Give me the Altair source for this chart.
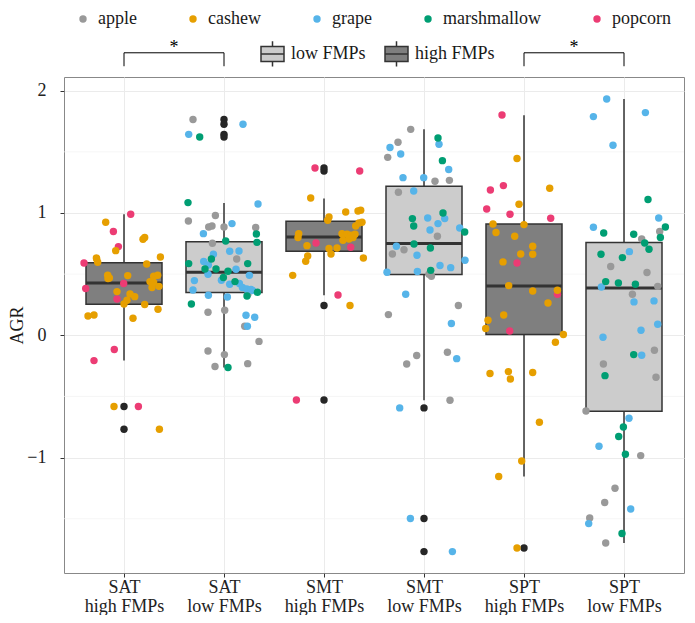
import altair as alt
import pandas as pd

# ---------------- data ----------------
foods = ["apple", "cashew", "grape", "marshmallow", "popcorn"]
food_colors = ["#999999", "#E69F00", "#56B4E9", "#009E73", "#EC3C74"]

cat_top = ["SAT", "SAT", "SMT", "SMT", "SPT", "SPT"]
cat_bottom = ["high FMPs", "low FMPs", "high FMPs", "low FMPs", "high FMPs", "low FMPs"]
fmp_levels = ["low FMPs", "high FMPs"]
fmp_fills = ["#CCCCCC", "#7F7F7F"]

# box statistics per category
whisker_lo = [-0.207, -0.264, 0.327, -0.531, -1.155, -1.698]
q1 = [0.253, 0.349, 0.687, 0.496, 0.006, -0.621]
median = [0.428, 0.515, 0.804, 0.750, 0.403, 0.387]
q3 = [0.594, 0.765, 0.932, 1.218, 0.910, 0.758]
whisker_hi = [0.990, 1.082, 1.118, 1.684, 1.800, 1.932]

# outliers (category number, AGR)
outlier_cat = [1, 1, 2, 2, 2, 2, 3, 3, 3, 3, 4, 4, 4, 5]
outlier_agr = [-0.583, -0.769, 1.764, 1.725, 1.643, 1.621, 1.368, 1.343, 0.243, -0.529,
               -0.594, -1.499, -1.769, -1.739]

# jittered points: per category, per food: AGR values and horizontal jitter
sat_high = {
    "popcorn": ([0.99, 0.848, 0.725, 0.591, 0.423, 0.382, 0.297, -0.117, -0.207, -0.583],
                [0.067, -0.106, -0.056, -0.40, -0.003, -0.383, -0.07, -0.097, -0.30, 0.144]),
    "cashew": ([0.924, 0.80, 0.785, 0.692, 0.632, 0.64, 0.624, 0.597, 0.583, 0.491, 0.469, 0.464,
                0.488, 0.482, 0.491, 0.439, 0.431, 0.40, 0.39, 0.357, 0.338, 0.286, 0.256, 0.316,
                0.251, 0.213, 0.158, 0.166, 0.139, -0.583, -0.769],
               [-0.183, 0.207, 0.19, -0.083, -0.276, 0.364, -0.273, -0.263, 0.227, -0.163, -0.146,
                -0.16, 0.037, 0.297, 0.337, 0.26, 0.297, 0.35, 0.28, -0.07, 0.06, 0.03, 0.0, 0.107,
                0.207, 0.34, -0.36, -0.30, 0.09, -0.10, 0.354]),
}
sat_low = {
    "apple": ([1.764, 0.979, 0.935, 0.886, 0.894, 0.886, 0.881, 0.752, 0.624, 0.338, 0.188, 0.204,
               0.074, -0.05, -0.128, -0.158, -0.256, -0.232],
              [-0.31, -0.086, -0.356, -0.153, -0.12, 0.0, 0.317, -0.116, 0.127, 0.24, -0.16, 0.007,
               0.207, 0.35, -0.16, 0.004, -0.09, 0.237]),
    "grape": ([1.643, 1.725, 1.074, 0.913, 0.831, 0.662, 0.687, 0.689, 0.603, 0.575, 0.54, 0.499,
               0.49, 0.45, 0.447, 0.417, 0.423, 0.39, 0.379, 0.374, 0.366, 0.37, 0.327, 0.313,
               0.164, 0.147, 0.074],
              [-0.353, 0.19, 0.34, 0.08, -0.206, -0.106, 0.057, 0.15, -0.203, -0.156, 0.12, -0.16,
               0.254, -0.026, -0.296, 0.057, 0.154, 0.184, 0.227, 0.27, 0.287, -0.31, -0.156,
               0.034, 0.22, 0.307, 0.234]),
    "marshmallow": ([1.621, 1.085, 0.828, 0.771, 0.76, 0.624, 0.586, 0.586, 0.542, 0.542, 0.523,
                     0.472, 0.439, 0.352, 0.321, 0.256, -0.264],
                    [-0.243, -0.36, 0.324, 0.017, 0.33, -0.126, -0.353, 0.237, -0.19, -0.08, 0.04,
                     -0.006, 0.11, 0.334, 0.23, -0.326, 0.04]),
}
smt_high = {
    "popcorn": ([1.368, 1.343, 0.755, 0.72, 0.33, -0.529],
                [-0.09, 0.357, -0.08, 0.267, 0.14, -0.276]),
    "cashew": ([1.123, 1.008, 1.016, 1.022, 0.967, 0.94, 0.918, 0.924, 0.894, 0.831, 0.799, 0.831,
                0.826, 0.818, 0.826, 0.777, 0.787, 0.799, 0.733, 0.709, 0.665, 0.714, 0.649, 0.605,
                0.632, 0.49, 0.243],
               [-0.133, 0.217, 0.34, 0.367, 0.05, 0.037, 0.35, 0.38, 0.317, -0.253, -0.26, 0.18,
                0.23, 0.27, 0.31, 0.19, 0.25, 0.29, -0.17, 0.05, 0.07, 0.13, -0.163, -0.183, 0.394,
                -0.313, 0.26]),
}
smt_low = {
    "apple": ([1.684, 1.578, 1.455, 1.259, 1.267, 1.169, 0.81, 0.70, 0.665, 0.499, 0.482, 0.243,
               0.169, -0.166, -0.235, -0.139, -0.531],
              [-0.133, -0.26, -0.363, 0.11, 0.254, -0.256, 0.134, -0.2, -0.316, 0.05, 0.074, 0.344,
               -0.356, -0.073, -0.173, 0.234, 0.26]),
    "grape": ([1.535, 1.482, 1.562, 1.355, 1.289, 1.289, 1.18, 0.959, 0.913, 0.954, 0.861, 0.877,
               0.728, 0.654, 0.613, 0.57, 0.553, 0.515, 0.521, 0.335, 0.096, -0.191, -0.594,
               -1.499, -1.769],
              [-0.34, -0.233, 0.15, 0.247, -0.21, -0.003, -0.103, 0.037, 0.14, 0.207, 0.06, 0.357,
               -0.276, -0.07, 0.41, 0.16, 0.267, -0.37, -0.066, -0.183, 0.274, 0.327, -0.243,
               -0.136, 0.284]),
    "marshmallow": ([1.613, 1.428, 0.954, 0.894, 1.0, 0.845, 0.747, 0.714, 0.531],
                    [0.14, 0.184, -0.116, -0.103, 0.19, 0.407, -0.1, 0.064, 0.067]),
}
spt_high = {
    "popcorn": ([1.801, 1.188, 1.224, 1.033, 0.989, 0.957, 0.591, 0.335, 0.035],
                [-0.22, -0.336, -0.206, -0.373, -0.14, 0.267, -0.07, 0.334, -0.143]),
    "cashew": ([1.445, 1.202, 1.071, 0.91, 0.905, 0.84, 0.81, 0.728, 0.662, 0.665, 0.60, 0.406,
                0.362, 0.368, 0.264, 0.166, 0.123, 0.055, 0.006, -0.057, -0.313, -0.297, -0.357,
                -0.305, -0.711, -1.028, -1.155, -1.739],
               [-0.07, 0.257, -0.05, -0.31, 0.0, -0.28, -0.093, 0.087, 0.087, -0.033, -0.21, -0.153,
                0.087, 0.334, 0.24, -0.203, -0.36, -0.383, 0.394, 0.314, -0.34, -0.156, -0.136,
                0.087, 0.154, -0.023, -0.253, -0.07]),
}
spt_low = {
    "apple": ([0.848, 0.788, 0.562, 0.513, 0.40, 0.335, -0.123, -0.235, -0.343, -0.619, -0.984,
               -1.251, -1.368, -1.494, -1.698],
              [0.357, 0.177, -0.133, 0.23, 0.337, 0.084, 0.304, -0.206, 0.32, -0.38, 0.167, -0.09,
               -0.193, -0.343, -0.183]),
    "grape": ([1.932, 1.788, 1.821, 1.554, 0.959, 0.883, 0.684, 0.395, 0.273, 0.281, 0.09, 0.041,
               -0.016, -0.164, -0.679, -0.908, -1.42, -1.54],
              [-0.173, -0.306, 0.214, -0.11, 0.347, -0.306, 0.054, -0.226, 0.1, 0.30, 0.337, 0.17,
               -0.21, 0.177, 0.05, -0.25, 0.067, -0.353]),
    "marshmallow": ([1.11, 0.886, 0.837, 0.826, 0.799, 0.755, 0.703, 0.662, 0.635, 0.439, 0.428,
                     0.417, -0.158, -0.33, -0.75, -0.828, -0.973, -1.621],
                    [0.24, 0.414, -0.203, 0.097, 0.364, 0.207, 0.25, -0.23, -0.016, -0.183, -0.056,
                     0.114, 0.097, -0.19, -0.006, -0.053, 0.014, -0.02]),
}
point_groups = [sat_high, sat_low, smt_high, smt_low, spt_high, spt_low]

# significance brackets
bracket_left = [1, 5]
bracket_right = [2, 6]
bracket_label = ["*", "*"]
bracket_y = 2.31
bracket_tip_y = 2.20
bracket_label_y = 2.35
minor_breaks = [-1.5, -0.5, 0.5, 1.5]

# ---------------- tables ----------------
box_df = pd.DataFrame({
    "pos": list(range(1, 7)),
    "fmp": cat_bottom,
    "wlo": whisker_lo, "q1": q1, "med": median, "q3": q3, "whi": whisker_hi,
})
out_df = pd.DataFrame({"pos": outlier_cat, "agr": outlier_agr})
rows = []
for i, grp in enumerate(point_groups):
    for food, (vals, jits) in grp.items():
        for v, j in zip(vals, jits):
            rows.append({"pos": i + 1, "food": food, "agr": v, "jit": j})
pts_df = pd.DataFrame(rows)
br_df = pd.DataFrame({"left": bracket_left, "right": bracket_right, "label": bracket_label,
                      "by": bracket_y, "ty": bracket_tip_y, "ly": bracket_label_y})
tip_df = pd.DataFrame({"x": bracket_left + bracket_right,
                       "by": bracket_y, "ty": bracket_tip_y})
minor_df = pd.DataFrame({"agr": minor_breaks})

# ---------------- scales / axes ----------------
label_arr = "[" + ",".join("['%s','%s']" % (a, b) for a, b in zip(cat_top, cat_bottom)) + "]"
xscale = alt.Scale(domain=[0.4, 6.6], nice=False, zero=False)
yscale = alt.Scale(domain=[-1.944, 2.112], nice=False, zero=False)
xaxis = alt.Axis(values=[1, 2, 3, 4, 5, 6], labelExpr=label_arr + "[datum.value - 1]",
                 title=None, grid=True, labelLineHeight=19, labelPadding=1)
yaxis = alt.Axis(values=[-1, 0, 1, 2], title="AGR", grid=True, labelPadding=14,
                 titlePadding=0, titleFontWeight="normal", titleFontSize=18)

def X(field):
    return alt.X(field, scale=xscale, axis=xaxis)

def Y(field):
    return alt.Y(field, scale=yscale, axis=yaxis)

minor = alt.Chart(minor_df).mark_rule(color="#F2F2F2", strokeWidth=0.7).encode(y=Y("agr:Q"))

whisk_lo = alt.Chart(box_df).mark_rule(color="#333333", strokeWidth=1.5).encode(
    x=X("pos:Q"), y=Y("wlo:Q"), y2="q1:Q")
whisk_hi = alt.Chart(box_df).mark_rule(color="#333333", strokeWidth=1.5).encode(
    x=X("pos:Q"), y=Y("q3:Q"), y2="whi:Q")
boxes = alt.Chart(box_df).transform_calculate(
    lo="datum.pos - 0.38", hi="datum.pos + 0.38"
).mark_bar(stroke="#333333", strokeWidth=1.5).encode(
    x=X("lo:Q"), x2="hi:Q", y=Y("q1:Q"), y2="q3:Q",
    fill=alt.Fill("fmp:N", scale=alt.Scale(domain=fmp_levels, range=fmp_fills),
                  legend=alt.Legend(orient="none", legendX=196, legendY=-36,
                                    direction="horizontal", columns=2, title=None,
                                    symbolType="M0,-1.1V-0.65M-1,-0.65H1V0.65H-1ZM-1,0H1M0,0.65V1.1",
                                    symbolSize=529, symbolStrokeColor="#333333",
                                    symbolStrokeWidth=1.5, labelFontSize=18, labelOffset=6,
                                    columnPadding=16, padding=0)),
)
meds = alt.Chart(box_df).transform_calculate(
    lo="datum.pos - 0.38", hi="datum.pos + 0.38"
).mark_rule(color="#333333", strokeWidth=3).encode(x=X("lo:Q"), x2="hi:Q", y=Y("med:Q"))
outs = alt.Chart(out_df).mark_circle(size=55, opacity=1, color="#262626").encode(
    x=X("pos:Q"), y=Y("agr:Q"))
points = alt.Chart(pts_df).transform_calculate(xj="datum.pos + datum.jit").mark_circle(
    size=55, opacity=1).encode(
    x=X("xj:Q"), y=Y("agr:Q"),
    color=alt.Color("food:N", scale=alt.Scale(domain=foods, range=food_colors),
                    legend=alt.Legend(orient="none", legendX=10, legendY=-67,
                                      direction="horizontal", columns=5, title=None,
                                      symbolType="circle", symbolSize=55, labelFontSize=18,
                                      labelOffset=6, columnPadding=47, padding=0,
                                      gridAlign="none")),
)
br_line = alt.Chart(br_df).mark_rule(color="#000000", strokeWidth=1, clip=False).encode(
    x=X("left:Q"), x2="right:Q", y=Y("by:Q"))
br_tips = alt.Chart(tip_df).mark_rule(color="#000000", strokeWidth=1, clip=False).encode(
    x=X("x:Q"), y=Y("ty:Q"), y2="by:Q")
br_text = alt.Chart(br_df).transform_calculate(mid="(datum.left + datum.right) / 2").mark_text(
    fontSize=18, clip=False, baseline="middle", color="#000000").encode(
    x=X("mid:Q"), y=Y("ly:Q"), text="label:N")

chart = alt.layer(minor, whisk_lo, whisk_hi, boxes, meds, outs, points,
                  br_line, br_tips, br_text).properties(
    width=620, height=496,
    autosize=alt.AutoSizeParams(type="none"),
    padding={"left": 56, "top": 69, "right": 3, "bottom": 42},
).configure(font="Liberation Serif").configure_view(
    stroke="#888888", strokeWidth=1
).configure_axis(
    domain=False, tickColor="#333333", tickSize=4, labelFontSize=18, labelColor="#222222",
    titleColor="#1A1A1A", gridColor="#EBEBEB", gridWidth=1, labelFont="Liberation Serif",
    titleFont="Liberation Serif"
).configure_legend(labelFont="Liberation Serif", labelColor="#1A1A1A")

chart.save("out.html", embed_options={"renderer": "svg", "actions": False})
